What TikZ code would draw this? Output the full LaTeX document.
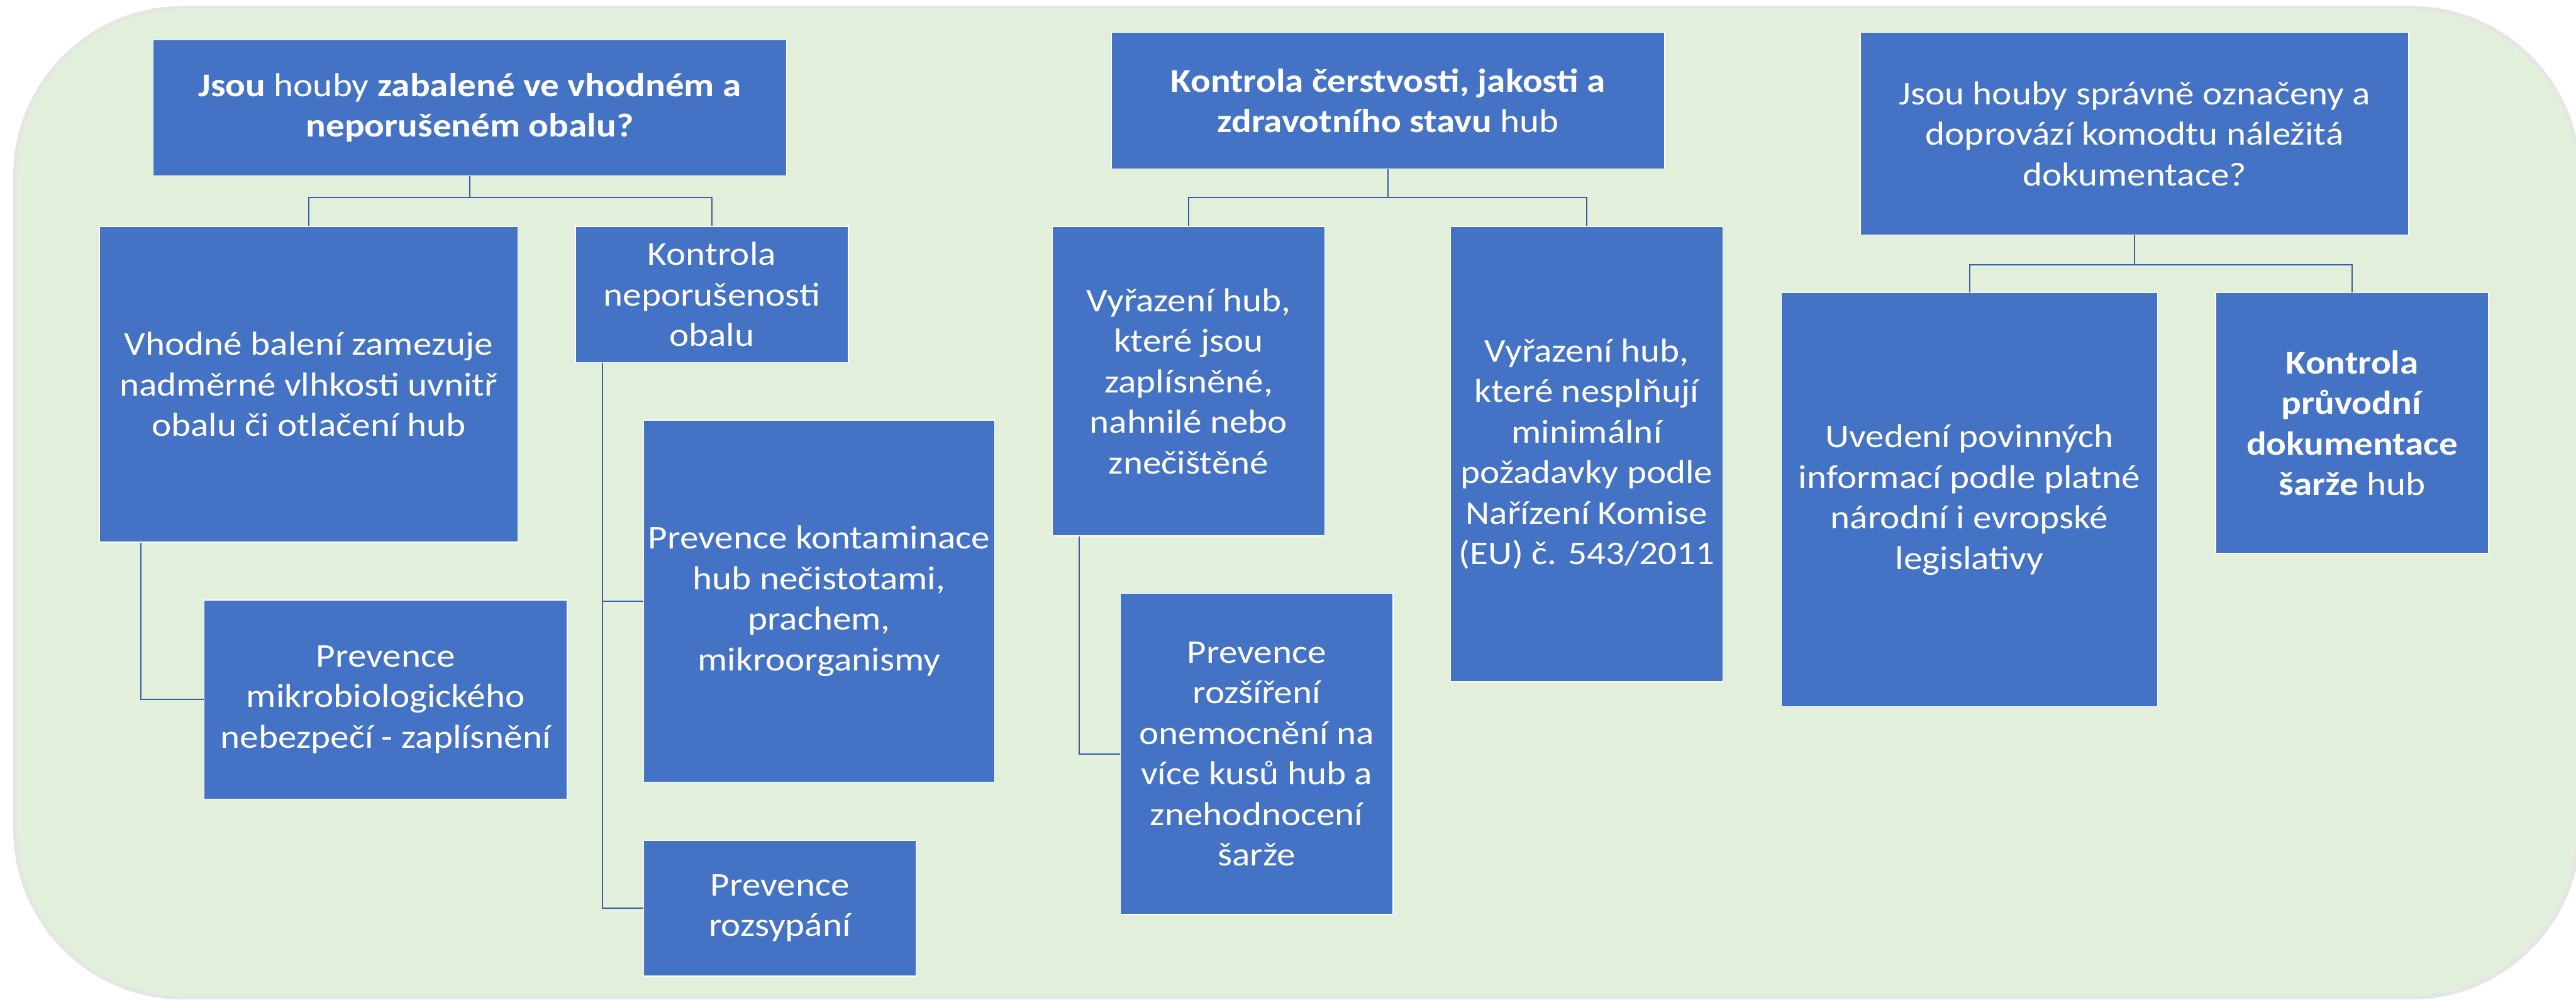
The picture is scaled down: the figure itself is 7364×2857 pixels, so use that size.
\documentclass[tikz,border=0pt]{standalone}
\usepackage{fontspec}
\setmainfont{Carlito}[FakeStretch=1.12]
\usetikzlibrary{calc}
\definecolor{boxblue}{HTML}{4472C4}
\definecolor{bggreen}{HTML}{E2EFDA}
\definecolor{linkblue}{RGB}{59,94,160}
\begin{document}
\begin{tikzpicture}[x=0.1pt,y=-0.1pt,
  box/.style={draw=white, line width=0.25pt, fill=boxblue, text=white, align=center, inner sep=0pt,
    font=\fontsize{9.5}{11.6}\selectfont},
  link/.style={draw=linkblue, line width=0.35pt}]
\useasboundingbox (0,0) rectangle (7364,2857);
\fill[white] (0,0) rectangle (7364,2857);
% background panel with soft outline
\draw[draw=black!10, line width=1pt, fill=bggreen, rounded corners=48pt] (43,22) rectangle (7372,2852);

% ---------- column 1 ----------
\node[box, minimum width=181pt, minimum height=38.8pt] (q1) at (1343,308)
  {\textbf{Jsou} houby \textbf{zabalené ve vhodném a}\\\textbf{neporušeném obalu?}};
\node[box, minimum width=119.7pt, minimum height=90.3pt] (vhodne) at (882.5,1098.5)
  {Vhodné balení zamezuje\\nadměrné vlhkosti uvnitř\\obalu či otlačení hub};
\node[box, minimum width=78pt, minimum height=38.9pt] (kontr1) at (2035,841.5)
  {Kontrola\\neporušenosti\\obalu};
\node[box, minimum width=103.9pt, minimum height=56.9pt] (mikro) at (1102.5,1999.5)
  {Prevence\\mikrobiologického\\nebezpečí - zaplísnění};
\node[box, minimum width=100.3pt, minimum height=103.5pt] (kontam) at (2341.5,1718.5)
  {Prevence kontaminace\\hub nečistotami,\\prachem,\\mikroorganismy};
\node[box, minimum width=77.9pt, minimum height=38.8pt] (rozsyp) at (2229.5,2596)
  {Prevence\\rozsypání};

% ---------- column 2 ----------
\node[box, minimum width=158.1pt, minimum height=39pt] (q2) at (3968.5,288)
  {\textbf{Kontrola čerstvosti, jakosti a}\\\textbf{zdravotního stavu} hub};
\node[box, minimum width=77.8pt, minimum height=88.5pt] (vyr1) at (3398,1089.5)
  {Vyřazení hub,\\které jsou\\zaplísněné,\\nahnilé nebo\\znečištěné};
\node[box, minimum width=77.9pt, minimum height=91.8pt] (rozsir) at (3592.5,2155)
  {Prevence\\rozšíření\\onemocnění na\\více kusů hub a\\znehodnocení\\šarže};
\node[box, minimum width=77.8pt, minimum height=130.2pt] (vyr2) at (4536,1298)
  {Vyřazení hub,\\které nesplňují\\minimální\\požadavky podle\\Nařízení Komise\\(EU) č. 543/2011};

% ---------- column 3 ----------
\node[box, minimum width=156.8pt, minimum height=57.9pt] (q3) at (6102,382.5)
  {Jsou houby správně označeny a\\doprovází komodtu náležitá\\dokumentace?};
\node[box, minimum width=107.6pt, minimum height=118.3pt] (uved) at (5630,1428.5)
  {Uvedení povinných\\informací podle platné\\národní i evropské\\legislativy};
\node[box, minimum width=78pt, minimum height=74.5pt] (kontr2) at (6724,1209.5)
  {\textbf{Kontrola}\\\textbf{průvodní}\\\textbf{dokumentace}\\\textbf{šarže} hub};

% ---------- connectors ----------
\coordinate (b1) at ($(q1.south)+(0,62)$);
\draw[link] (q1.south) -- (b1);
\draw[link] (vhodne.north) |- (b1) -| (kontr1.north);

\coordinate (b2) at ($(q2.south)+(0,81)$);
\draw[link] (q2.south) -- (b2);
\draw[link] (vyr1.north) |- (b2) -| (vyr2.north);

\coordinate (b3) at ($(q3.south)+(0,83)$);
\draw[link] (q3.south) -- (b3);
\draw[link] (uved.north) |- (b3) -| (kontr2.north);

\coordinate (s1) at ($(vhodne.south west)!0.1!(vhodne.south east)$);
\draw[link] (s1) |- (mikro.west);
\coordinate (s2) at ($(kontr1.south west)!0.1!(kontr1.south east)$);
\draw[link] (s2) |- (kontam.west);
\draw[link] (s2) |- (rozsyp.west);
\coordinate (s3) at ($(vyr1.south west)!0.1!(vyr1.south east)$);
\draw[link] (s3) |- (rozsir.west);
\end{tikzpicture}
\end{document}
